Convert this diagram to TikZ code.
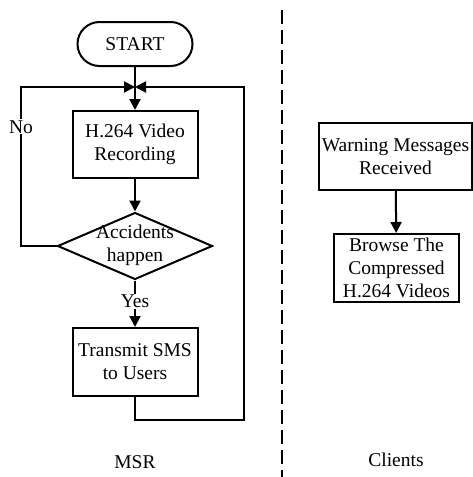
\documentclass[tikz,border=0pt]{standalone}
\usepackage{fontspec}
\setmainfont{Liberation Serif}
\usetikzlibrary{arrows.meta,shapes.geometric,shapes.misc}
\begin{document}
\begin{tikzpicture}[x=1pt,y=-1pt,
  every node/.style={font=\fontsize{19.5}{23}\selectfont, align=center},
  box/.style={draw, line width=2pt, inner sep=0pt},
  conn/.style={line width=2pt},
  arr/.style={conn, -{Triangle[length=11pt,width=11pt]}},
  lbl/.style={fill=white, inner sep=1pt}]
\useasboundingbox (0,0) rectangle (473,477);
\node[box, rounded rectangle, minimum width=115pt, minimum height=44pt] (start) at (135,44) {START};
\coordinate (merge) at (135,87);
\node[box, minimum width=125pt, minimum height=67pt] (rec) at (135,144.5) {H.264 Video\\Recording};
\node[box, diamond, minimum width=155pt, minimum height=67pt] (dia) at (135,246) {};
\node (diatext) at (135,245) {Accidents\\happen};
\node[box, minimum width=125pt, minimum height=68pt] (tx) at (135,362) {Transmit SMS\\to Users};
\coordinate (nl) at (21,246);
\coordinate (nt) at (21,87);
\coordinate (rb) at (135,420);
\coordinate (rr) at (244,420);
\coordinate (rt) at (244,87);
\draw[conn] (start) -- (merge);
\draw[arr] (merge) -- (rec);
\draw[arr] (rec) -- (dia.north);
\draw[arr] (dia.south) -- node[lbl, pos=0.45] (yes) {Yes} (tx);
\draw[arr] (dia.west) -- (nl) -- node[lbl, pos=0.75] (no) {No} (nt) -- (merge);
\draw[arr] (tx) -- (rb) -- (rr) -- (rt) -- (merge);
\node (msr) at (135,462) {MSR};
\coordinate (dtop) at (282,10);
\coordinate (dbot) at (282,477);
\draw[line width=1.8pt, dash pattern=on 14pt off 6pt] (dtop) -- (dbot);
\node[box, minimum width=153pt, minimum height=67pt] (warn) at (395.5,156.5) {Warning Messages\\Received};
\node[box, minimum width=125pt, minimum height=68pt] (browse) at (396.5,268) {Browse The\\Compressed\\H.264 Videos};
\draw[arr] (warn) -- (browse);
\node (clients) at (396,460) {Clients};
\end{tikzpicture}
\end{document}
